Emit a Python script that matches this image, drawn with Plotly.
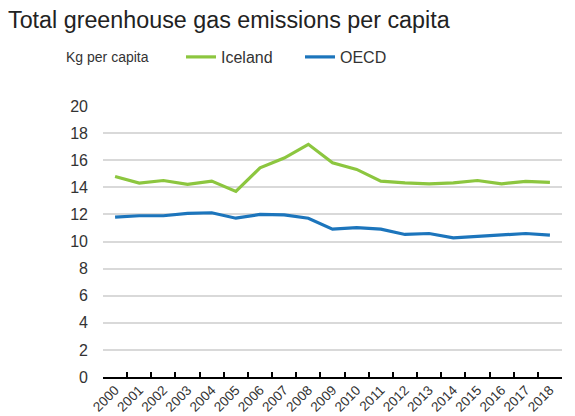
import plotly.graph_objects as go

years = [str(y) for y in range(2000, 2019)]
iceland = [14.8, 14.31, 14.5, 14.21, 14.46, 13.7, 15.44, 16.16, 17.17, 15.81, 15.32,
           14.46, 14.33, 14.26, 14.33, 14.5, 14.26, 14.43, 14.36]
oecd = [11.8, 11.9, 11.9, 12.07, 12.12, 11.72, 12.0, 11.97, 11.72, 10.91, 11.03,
        10.91, 10.52, 10.59, 10.27, 10.39, 10.49, 10.59, 10.47]
y_ticks = [0, 2, 4, 6, 8, 10, 12, 14, 16, 18, 20]

# page has an 8px body margin; figure sized to fit the window
W, H = 567, 408
L, R, T, B = 95, 13, 98, 39
PW, PH = W - L - R, H - T - B

fig = go.Figure()
fig.add_trace(go.Scatter(x=years, y=iceland, mode="lines", name="Iceland",
                         line=dict(color="#8CC63F", width=3.2)))
fig.add_trace(go.Scatter(x=years, y=oecd, mode="lines", name="OECD",
                         line=dict(color="#1C75BC", width=3.2)))

fig.update_layout(
    width=W, height=H,
    margin=dict(l=L, r=R, t=T, b=B, pad=0, autoexpand=False),
    paper_bgcolor="white", plot_bgcolor="white",
    font=dict(family="Liberation Sans, Arial, sans-serif", color="#333333"),
    title=dict(text="Total greenhouse gas emissions per capita",
               x=0, xanchor="left", xref="container",
               y=1 - 12 / H, yanchor="middle", yref="container",
               pad=dict(l=0, r=0, t=0, b=0),
               font=dict(size=23.3, color="#222222")),
    showlegend=True,
    legend=dict(orientation="h", x=(173 - L) / PW, xanchor="left",
                y=1 + (T - 49) / PH, yanchor="middle",
                font=dict(size=16, color="#333333"),
                bgcolor="rgba(0,0,0,0)", itemwidth=30,
                entrywidth=74, entrywidthmode="pixels",
                tracegroupgap=0, traceorder="normal"),
    annotations=[dict(text="Kg per capita", xref="paper", yref="paper",
                      x=(56 - L) / PW, xanchor="left",
                      y=1 + (T - 49) / PH, yanchor="middle",
                      showarrow=False, font=dict(size=14, color="#333333"))],
)

fig.update_xaxes(type="category", range=[-0.5, 18.5], tickangle=-45,
                 ticks="inside", ticklen=5, tickwidth=2, tickcolor="black",
                 tickson="boundaries", showline=True, linecolor="black",
                 linewidth=2, showgrid=False, automargin=False,
                 ticklabelstandoff=-2,
                 tickfont=dict(size=13.5, color="#333333"), fixedrange=True)
fig.update_yaxes(range=[0, 20], tickvals=y_ticks, showgrid=True,
                 gridcolor="#D9D9D9", gridwidth=2, zeroline=False,
                 showline=False, ticks="", ticklabelstandoff=14, automargin=False,
                 tickfont=dict(size=16, color="#333333"), fixedrange=True)

fig.write_html("out.html")
